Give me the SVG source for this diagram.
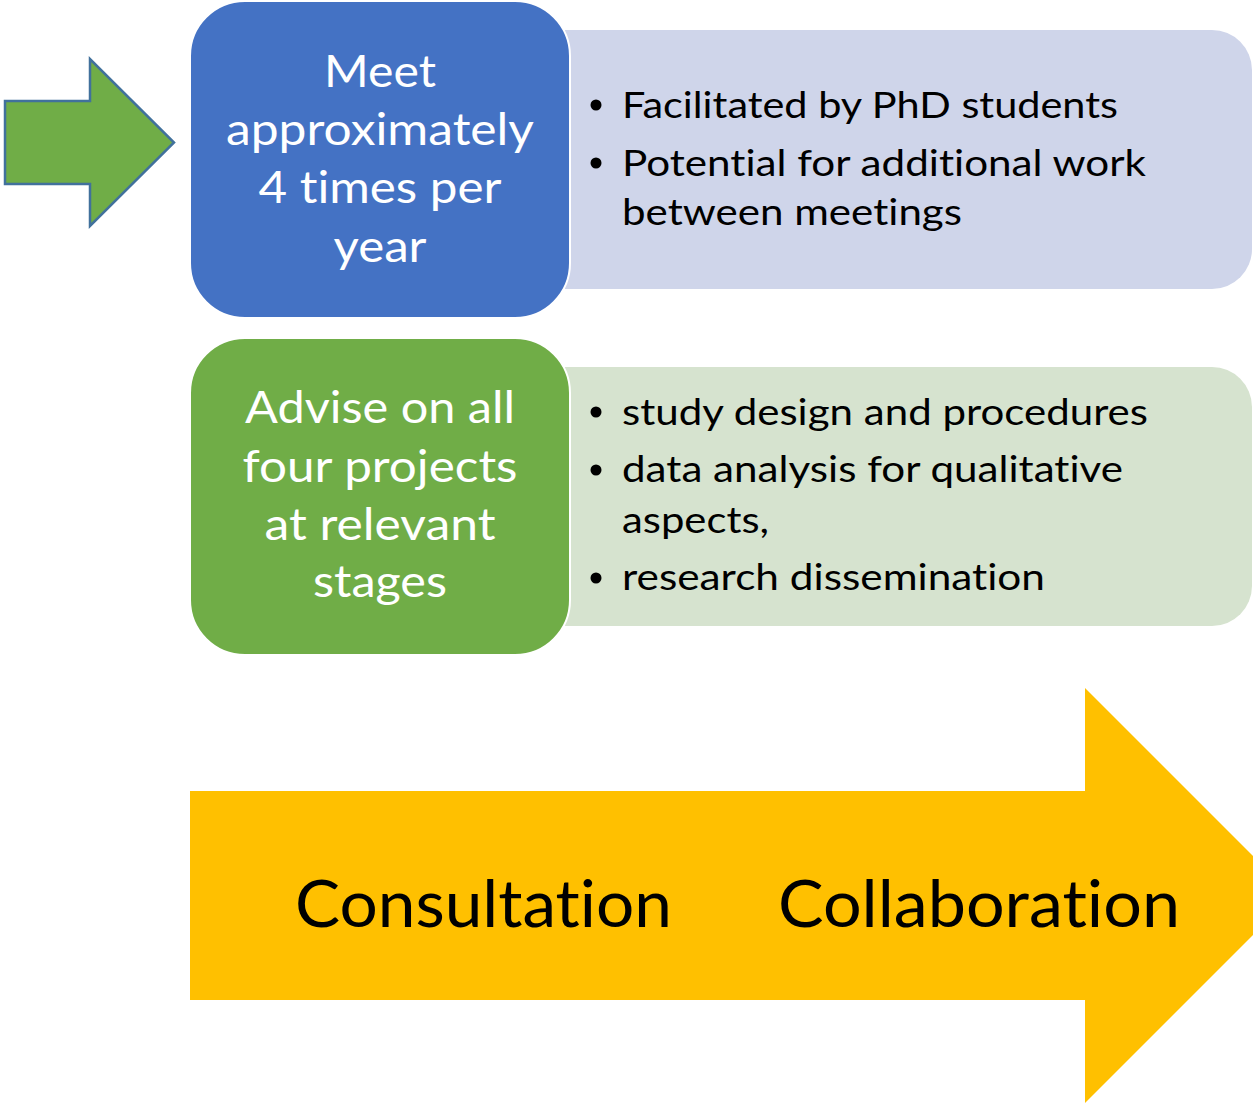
<svg xmlns="http://www.w3.org/2000/svg" width="1253" height="1103" viewBox="0 0 1253 1103">
<style>
text{font-variant-ligatures:none;font-feature-settings:"liga" 0,"dlig" 0}
.hd{font-family:Lato,"Open Sans",sans-serif;font-size:44px;fill:#fff;text-anchor:middle}
.bl{font-family:Lato,"Open Sans",sans-serif;font-size:36.5px;fill:#000}
.big{font-family:Lato,"Open Sans",sans-serif;font-size:65px;fill:#000}
.dark{stroke:#fff;stroke-width:2}
</style>
<rect width="1253" height="1103" fill="#fff"/>
<g id="connectors">
<polygon id="green-arrow" points="5,101 90,101 90,59 174,142.5 90,226 90,184 5,184" fill="#70AD47" stroke="#41719C" stroke-width="2.5"/>
<polygon id="yellow-arrow" points="190,791 1085,791 1085,688 1292.5,895.5 1085,1103 1085,1000 190,1000" fill="#FFC000"/>
</g>
<g id="light1">
<path d="M565,30 H1212 A40,40 0 0 1 1252,70 V249 A40,40 0 0 1 1212,289 H565 Z" fill="#CFD5EA"/>
<circle cx="596" cy="105" r="5.5" fill="#000"/>
<circle cx="596" cy="163" r="5.5" fill="#000"/>
<text class="bl" x="622" y="118" textLength="496" lengthAdjust="spacingAndGlyphs">Facilitated by PhD students</text>
<text class="bl" x="622" y="176" textLength="524" lengthAdjust="spacingAndGlyphs">Potential for additional work</text>
<text class="bl" x="622" y="225" textLength="340" lengthAdjust="spacingAndGlyphs">between meetings</text>
</g>
<g id="light2">
<path d="M565,367 H1212 A40,40 0 0 1 1252,407 V586 A40,40 0 0 1 1212,626 H565 Z" fill="#D6E3CF"/>
<circle cx="596" cy="412" r="5.5" fill="#000"/>
<circle cx="596" cy="470" r="5.5" fill="#000"/>
<circle cx="596" cy="578" r="5.5" fill="#000"/>
<text class="bl" x="622" y="425" textLength="526" lengthAdjust="spacingAndGlyphs">study design and procedures</text>
<text class="bl" x="622" y="482" textLength="501" lengthAdjust="spacingAndGlyphs">data analysis for qualitative</text>
<text class="bl" x="622" y="533" textLength="147" lengthAdjust="spacingAndGlyphs">aspects,</text>
<text class="bl" x="622" y="590" textLength="423" lengthAdjust="spacingAndGlyphs">research dissemination</text>
</g>
<g id="box1">
<rect class="dark" x="190" y="1" width="380" height="317" rx="55" fill="#4472C4"/>
<text class="hd" x="380" y="87" textLength="112" lengthAdjust="spacingAndGlyphs">Meet</text>
<text class="hd" x="380" y="145" textLength="308" lengthAdjust="spacingAndGlyphs">approximately</text>
<text class="hd" x="380" y="203" textLength="243" lengthAdjust="spacingAndGlyphs">4 times per</text>
<text class="hd" x="380" y="262" textLength="93" lengthAdjust="spacingAndGlyphs">year</text>
</g>
<g id="box2">
<rect class="dark" x="190" y="338" width="380" height="317" rx="55" fill="#70AD47"/>
<text class="hd" x="380" y="423" textLength="270" lengthAdjust="spacingAndGlyphs">Advise on all</text>
<text class="hd" x="380" y="482" textLength="275" lengthAdjust="spacingAndGlyphs">four projects</text>
<text class="hd" x="380" y="540" textLength="231" lengthAdjust="spacingAndGlyphs">at relevant</text>
<text class="hd" x="380" y="597" textLength="134" lengthAdjust="spacingAndGlyphs">stages</text>
</g>
<g id="labels">
<text class="big" x="295" y="927" textLength="377" lengthAdjust="spacingAndGlyphs">Consultation</text>
<text class="big" x="778" y="927" textLength="402" lengthAdjust="spacingAndGlyphs">Collaboration</text>
</g>
</svg>
